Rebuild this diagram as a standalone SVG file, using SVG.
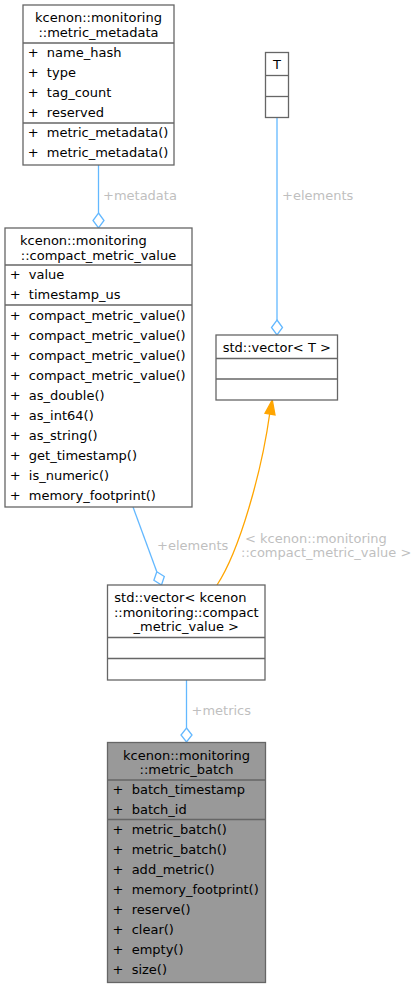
<svg xmlns="http://www.w3.org/2000/svg" width="417" height="988" viewBox="0 0 417 988">
<style>
text{font-family:"DejaVu Sans","Liberation Sans",sans-serif;font-size:13px;fill:#000;white-space:pre}
.box{fill:#fff;stroke:#666;stroke-width:1.3}
.sel{fill:#999;stroke:#666;stroke-width:1.3}
.sep{stroke:#666;stroke-width:1.3}
.m{text-anchor:middle}
.lbl{fill:#bfbfbf}
.e{fill:none;stroke:#63b8ff;stroke-width:1.3}
.d{fill:#fff;stroke:#63b8ff;stroke-width:1.3}
.o{fill:none;stroke:#ffa500;stroke-width:1.3}
</style>
<rect width="417" height="988" fill="#fff"/>
<g id="connectors">
<line class="e" x1="98.5" y1="165" x2="98.5" y2="213"/>
<polygon class="d" points="98.5,213 104,220.5 98.5,228 93,220.5"/>
<text class="lbl" x="103" y="199.5">+metadata</text>
<line class="e" x1="277" y1="118" x2="277" y2="320"/>
<polygon class="d" points="277,320 282.5,327.5 277,335 271.5,327.5"/>
<text class="lbl" x="282" y="200">+elements</text>
<line class="e" x1="133" y1="507" x2="156.8" y2="571.8"/>
<polygon class="d" points="156.8,571.8 164.3,576.5 161.5,585 153.9,580.3"/>
<text class="lbl" x="157" y="549.5">+elements</text>
<path class="o" d="M217,585 C240,550 262,470 269.8,413"/>
<polygon points="272.3,400 275,415 265,413.3" fill="#ffa500" stroke="#ffa500" stroke-width="1.3"/>
<text class="lbl" x="245" y="542.5">&lt; kcenon::monitoring</text>
<text class="lbl" x="241" y="557">::compact_metric_value &gt;</text>
<line class="e" x1="186.5" y1="680" x2="186.5" y2="728"/>
<polygon class="d" points="186.5,728 192,735 186.5,742 181,735"/>
<text class="lbl" x="191.5" y="714.5">+metrics</text>
</g>
<g id="metric_metadata">
<rect class="box" x="23" y="5" width="151" height="160"/>
<text class="m" x="98.5" y="21.5">kcenon::monitoring</text>
<text class="m" x="98.5" y="36.5">::metric_metadata</text>
<line class="sep" x1="23" y1="43" x2="174" y2="43"/>
<text x="27.7" y="56.5">+  name_hash</text>
<text x="27.7" y="76.5">+  type</text>
<text x="27.7" y="96.5">+  tag_count</text>
<text x="27.7" y="116.5">+  reserved</text>
<line class="sep" x1="23" y1="123" x2="174" y2="123"/>
<text x="27.7" y="136.5">+  metric_metadata()</text>
<text x="27.7" y="156.5">+  metric_metadata()</text>
</g>
<g id="compact_metric_value">
<rect class="box" x="5" y="228" width="187" height="279"/>
<text x="20" y="245">kcenon::monitoring</text>
<text class="m" x="98.5" y="259.5">::compact_metric_value</text>
<line class="sep" x1="5" y1="265" x2="192" y2="265"/>
<text x="9.7" y="278.5">+  value</text>
<text x="9.7" y="298.5">+  timestamp_us</text>
<line class="sep" x1="5" y1="305" x2="192" y2="305"/>
<text x="9.7" y="319.5">+  compact_metric_value()</text>
<text x="9.7" y="339.5">+  compact_metric_value()</text>
<text x="9.7" y="359.5">+  compact_metric_value()</text>
<text x="9.7" y="379.5">+  compact_metric_value()</text>
<text x="9.7" y="399.5">+  as_double()</text>
<text x="9.7" y="419.5">+  as_int64()</text>
<text x="9.7" y="439.5">+  as_string()</text>
<text x="9.7" y="459.5">+  get_timestamp()</text>
<text x="9.7" y="479.5">+  is_numeric()</text>
<text x="9.7" y="499.5">+  memory_footprint()</text>
</g>
<g id="T">
<rect class="box" x="265.5" y="52.5" width="23" height="65"/>
<text class="m" x="277" y="68.5">T</text>
<line class="sep" x1="265.5" y1="75.5" x2="288.5" y2="75.5"/>
<line class="sep" x1="265.5" y1="96.5" x2="288.5" y2="96.5"/>
</g>
<g id="vector_T">
<rect class="box" x="216" y="335" width="121.5" height="65"/>
<text class="m" x="276.8" y="352">std::vector&lt; T &gt;</text>
<line class="sep" x1="216" y1="358.5" x2="337.5" y2="358.5"/>
<line class="sep" x1="216" y1="379" x2="337.5" y2="379"/>
</g>
<g id="vector_compact_metric_value">
<rect class="box" x="107.5" y="585" width="157.5" height="95"/>
<text x="114.3" y="602">std::vector&lt; kcenon</text>
<text class="m" x="186.3" y="616.5">::monitoring::compact</text>
<text class="m" x="186.3" y="631">_metric_value &gt;</text>
<line class="sep" x1="107.5" y1="637.5" x2="265" y2="637.5"/>
<line class="sep" x1="107.5" y1="658.5" x2="265" y2="658.5"/>
</g>
<g id="metric_batch">
<rect class="sel" x="107.5" y="742.5" width="158" height="240"/>
<text class="m" x="186.5" y="759.5">kcenon::monitoring</text>
<text class="m" x="186.5" y="773.5">::metric_batch</text>
<line class="sep" x1="107.5" y1="780" x2="265.5" y2="780"/>
<text x="112.5" y="793.5">+  batch_timestamp</text>
<text x="112.5" y="813.5">+  batch_id</text>
<line class="sep" x1="107.5" y1="819.5" x2="265.5" y2="819.5"/>
<text x="112.5" y="833.5">+  metric_batch()</text>
<text x="112.5" y="853.5">+  metric_batch()</text>
<text x="112.5" y="873.5">+  add_metric()</text>
<text x="112.5" y="893.5">+  memory_footprint()</text>
<text x="112.5" y="913.5">+  reserve()</text>
<text x="112.5" y="933.5">+  clear()</text>
<text x="112.5" y="953.5">+  empty()</text>
<text x="112.5" y="973.5">+  size()</text>
</g>
</svg>
